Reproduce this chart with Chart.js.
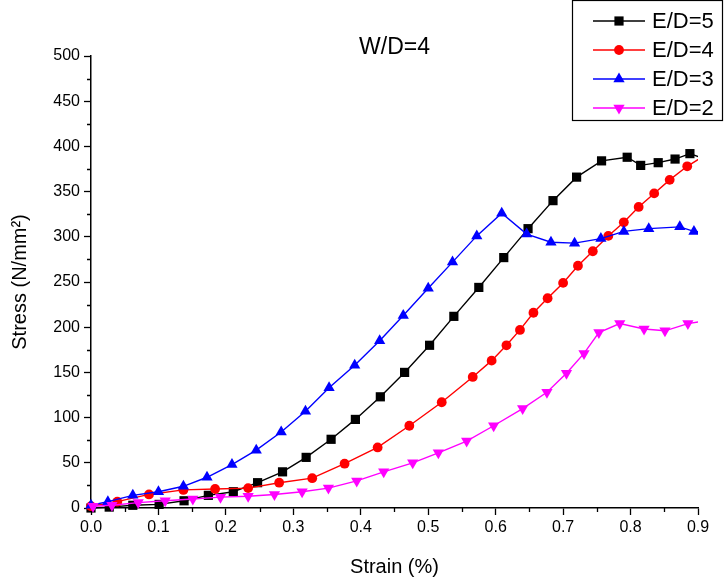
<!DOCTYPE html>
<html>
<head>
<meta charset="utf-8">
<script src="https://cdn.jsdelivr.net/npm/chart.js@4.4.1/dist/chart.umd.min.js"></script>
<style>
  html, body { margin: 0; padding: 0; background: #fff; }
  #wrap { width: 724px; height: 579px; position: relative; }
</style>
</head>
<body>
<div id="wrap"><canvas id="c" width="724" height="579"></canvas></div>
<script>
// ---- Data ----
const chartTitle = "W/D=4";
const xTitle = "Strain (%)";
const yTitle = "Stress (N/mm²)";
const seriesNames = ["E/D=5", "E/D=4", "E/D=3", "E/D=2"];

const strainED5 = [0, 0.027, 0.062, 0.101, 0.138, 0.174, 0.211, 0.247, 0.284, 0.319, 0.356, 0.392, 0.429, 0.465, 0.502, 0.538, 0.575, 0.612, 0.648, 0.685, 0.720, 0.757, 0.795, 0.815, 0.841, 0.866, 0.888, 0.91];
const stressED5 = [0, 1, 3, 4, 8, 14, 18, 28, 40, 56, 76, 98, 123, 150, 180, 212, 244, 277, 309, 340, 366, 384, 388, 379, 382, 386, 392, 386];

const strainED4 = [0, 0.039, 0.086, 0.137, 0.184, 0.233, 0.279, 0.328, 0.376, 0.425, 0.472, 0.520, 0.566, 0.594, 0.616, 0.636, 0.656, 0.677, 0.700, 0.722, 0.744, 0.767, 0.790, 0.812, 0.835, 0.858, 0.884, 0.91];
const stressED4 = [2, 7, 15, 20, 21, 22, 28, 33, 49, 67, 91, 117, 145, 163, 180, 197, 216, 232, 249, 268, 284, 301, 316, 333, 348, 363, 378, 390];

const strainED3 = [0, 0.025, 0.062, 0.100, 0.137, 0.172, 0.209, 0.245, 0.282, 0.318, 0.353, 0.391, 0.428, 0.463, 0.500, 0.536, 0.572, 0.609, 0.646, 0.682, 0.717, 0.756, 0.790, 0.827, 0.873, 0.894, 0.91];
const stressED3 = [3, 7, 14, 18, 24, 34, 48, 64, 84, 107, 133, 158, 185, 213, 243, 272, 301, 326, 303, 294, 293, 298, 306, 309, 311, 306, 305];

const strainED2 = [0.003, 0.031, 0.070, 0.110, 0.151, 0.192, 0.233, 0.272, 0.313, 0.352, 0.394, 0.434, 0.477, 0.515, 0.557, 0.597, 0.640, 0.676, 0.705, 0.731, 0.753, 0.784, 0.820, 0.851, 0.885, 0.91];
const stressED2 = [2, 3, 6, 8, 10, 12, 13, 15, 18, 22, 30, 40, 50, 61, 74, 91, 110, 128, 149, 171, 194, 204, 198, 196, 204, 207];

const xTicksMin = 0, xTicksMax = 0.9, xStep = 0.1;
const yTicksMin = 0, yTicksMax = 500, yStep = 50;

// ---- Styles ----
const FONT = "'Liberation Sans', Arial, Helvetica, sans-serif";
const colors = ["#000000", "#ff0000", "#0000ff", "#ff00ff"];
const styles = [
  { pointStyle: 'rect', radius: 6.5, rotation: 0 },
  { pointStyle: 'circle', radius: 4.9, rotation: 0 },
  { pointStyle: 'triangle', radius: 6.5, rotation: 0 },
  { pointStyle: 'triangle', radius: 6.5, rotation: 180 }
];

function pairs(xs, ys) { return xs.map((x, i) => ({ x: x, y: ys[i] })); }
const allData = [pairs(strainED5, stressED5), pairs(strainED4, stressED4), pairs(strainED3, stressED3), pairs(strainED2, stressED2)];

const datasets = allData.map((d, i) => ({
  label: seriesNames[i],
  data: d,
  borderColor: colors[i],
  backgroundColor: colors[i],
  pointBackgroundColor: colors[i],
  pointBorderColor: colors[i],
  pointBorderWidth: 0,
  borderWidth: 1.4,
  pointStyle: styles[i].pointStyle,
  pointRadius: styles[i].radius,
  pointRotation: styles[i].rotation,
  pointHoverRadius: styles[i].radius,
  tension: 0,
  order: 3 - i,
  clip: { left: 12, top: 0, right: 0, bottom: 12 }
}));

// minor ticks + title + legend
const extras = {
  id: 'extras',
  afterDraw(chart) {
    const ctx = chart.ctx;
    const ca = chart.chartArea;
    const xs = chart.scales.x, ys = chart.scales.y;
    ctx.save();
    ctx.strokeStyle = '#000';
    ctx.lineWidth = 1.3;
    ctx.beginPath();
    for (let v = xTicksMin + xStep / 2; v < xTicksMax; v += xStep) {
      const px = Math.round(xs.getPixelForValue(v)) + 0.5;
      ctx.moveTo(px, ca.bottom); ctx.lineTo(px, ca.bottom + 4);
    }
    for (let v = yTicksMin + yStep / 2; v < yTicksMax; v += yStep) {
      const py = Math.round(ys.getPixelForValue(v)) + 0.5;
      ctx.moveTo(ca.left, py); ctx.lineTo(ca.left - 4, py);
    }
    ctx.stroke();

    // title
    ctx.fillStyle = '#000';
    ctx.font = '23px ' + FONT;
    ctx.textAlign = 'center';
    ctx.textBaseline = 'middle';
    ctx.fillText(chartTitle, (ca.left + ca.right) / 2, ca.top - 8);

    // legend
    const bx = 572.5, by = 0.5, bw = 150, bh = 120;
    ctx.fillStyle = '#fff';
    ctx.fillRect(bx, by, bw, bh);
    ctx.strokeStyle = '#000';
    ctx.lineWidth = 1.2;
    ctx.strokeRect(bx, by, bw, bh);
    ctx.font = '22px ' + FONT;
    ctx.textAlign = 'left';
    const rowY = [21, 50, 79, 108];
    chart.data.datasets.forEach((ds, i) => {
      const y = rowY[i];
      ctx.strokeStyle = ds.borderColor;
      ctx.lineWidth = 1.4;
      ctx.beginPath();
      ctx.moveTo(593, y); ctx.lineTo(645, y);
      ctx.stroke();
      ctx.fillStyle = ds.borderColor;
      ctx.strokeStyle = ds.borderColor;
      Chart.helpers.drawPoint(ctx, { pointStyle: ds.pointStyle, radius: ds.pointRadius, rotation: ds.pointRotation, borderWidth: 0 }, 619, y);
      ctx.fillStyle = '#000';
      ctx.fillText(ds.label, 652, y + 1);
    });
    ctx.restore();
  }
};

new Chart(document.getElementById('c'), {
  type: 'line',
  data: { datasets: datasets },
  options: {
    responsive: false,
    animation: false,
    events: [],
    layout: { padding: { left: 0, right: 26, top: 56, bottom: 0 } },
    plugins: { legend: { display: false }, title: { display: false }, tooltip: { enabled: false } },
    scales: {
      x: {
        type: 'linear',
        min: xTicksMin, max: xTicksMax,
        afterFit(scale) { scale.height = 71; },
        border: { display: true, color: '#000', width: 1.5 },
        grid: { drawOnChartArea: false, drawTicks: true, tickLength: 7, color: '#000', tickWidth: 1.3 },
        ticks: {
          stepSize: xStep, color: '#000', padding: 3,
          font: { family: FONT, size: 16 },
          maxRotation: 0, autoSkip: false,
          callback: v => Number(v).toFixed(1)
        },
        title: { display: true, text: xTitle, color: '#000', font: { family: FONT, size: 20 }, padding: { top: 0, bottom: 0 } }
      },
      y: {
        type: 'linear',
        min: yTicksMin, max: yTicksMax,
        afterFit(scale) { scale.width = 91; },
        border: { display: true, color: '#000', width: 1.5 },
        grid: { drawOnChartArea: false, drawTicks: true, tickLength: 7, color: '#000', tickWidth: 1.3 },
        ticks: {
          stepSize: yStep, color: '#000', padding: 4,
          font: { family: FONT, size: 16 },
          autoSkip: false
        },
        title: { display: true, text: yTitle, color: '#000', font: { family: FONT, size: 20 }, padding: { top: 8, bottom: 0 } }
      }
    }
  },
  plugins: [extras]
});
</script>
</body>
</html>
